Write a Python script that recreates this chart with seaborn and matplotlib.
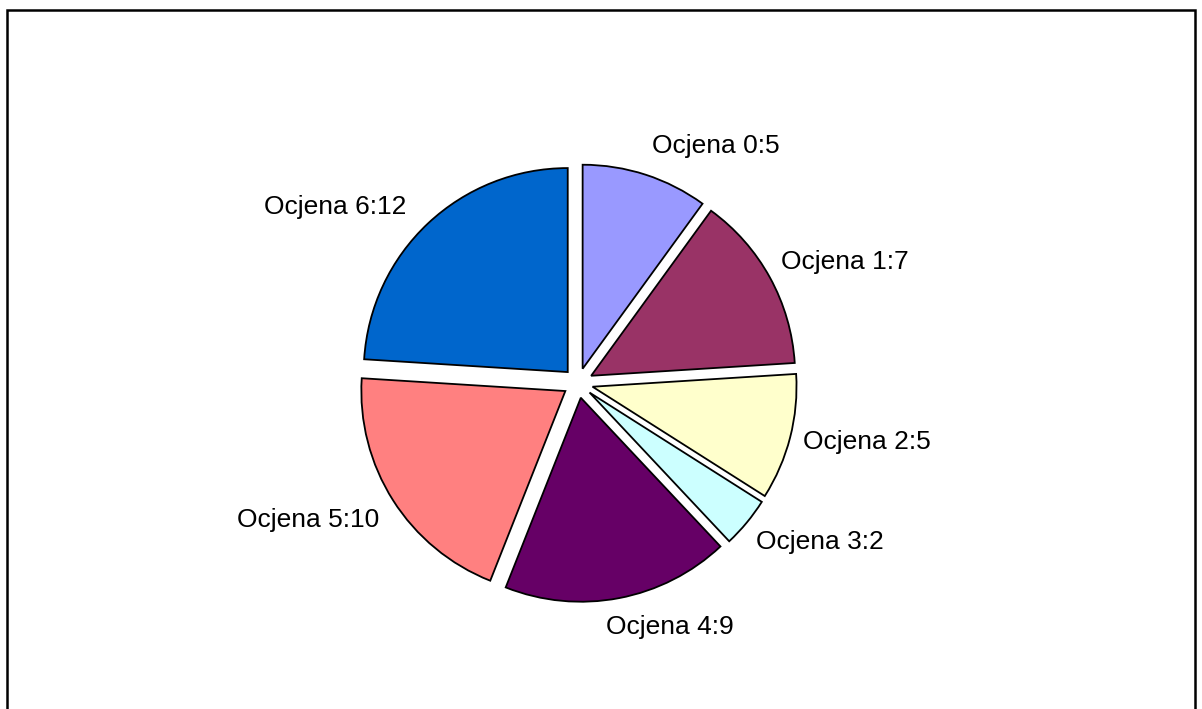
import matplotlib
matplotlib.use("Agg")
import matplotlib.pyplot as plt
from matplotlib.patches import Rectangle
import seaborn as sns

categories = ["Ocjena 0", "Ocjena 1", "Ocjena 2", "Ocjena 3", "Ocjena 4", "Ocjena 5", "Ocjena 6"]
values = [5, 7, 5, 2, 9, 10, 12]
colors = ["#9999FF", "#993366", "#FFFFCC", "#CCFFFF", "#660066", "#FF8080", "#0066CC"]

sns.set_theme(style="white")
plt.rcParams['font.family'] = ['Liberation Sans', 'DejaVu Sans']

W, H = 1202, 709
fig = plt.figure(figsize=(W / 100, H / 100), dpi=100)
fig.patch.set_facecolor("white")
ax = fig.add_axes([0, 0, 1, 1])
ax.set_xlim(0, W)
ax.set_ylim(0, H)
ax.set_aspect("equal")
ax.axis("off")

cx, cy, R = 578, H - 383, 204
labels = [f"{c}:{v}" for c, v in zip(categories, values)]
# explode offset is in data units (pixels here), ~7% of the radius
wedges, texts = ax.pie(
    values, labels=labels, colors=sns.color_palette(colors),
    startangle=90, counterclock=False, center=(cx, cy), radius=R,
    explode=[0.0735 * R] * len(values), frame=True,
    wedgeprops=dict(edgecolor="black", linewidth=1.3),
    textprops=dict(fontsize=19, color="black"),
)
ax.set_xlim(0, W)
ax.set_ylim(0, H)
ax.axis("off")

label_pos = [(716, 146), (845, 262), (867, 442), (820, 542), (670, 627), (308, 520), (335, 207)]
for t, (x, y) in zip(texts, label_pos):
    t.set_position((x, H - y))
    t.set_ha("center")
    t.set_va("center")

fig.patches.append(Rectangle((7 / W, -0.05), (1195 - 7) / W, (H - 10) / H + 0.05,
                             transform=fig.transFigure, fill=False,
                             edgecolor="black", linewidth=1.8))

fig.savefig("out.png", dpi=100)
